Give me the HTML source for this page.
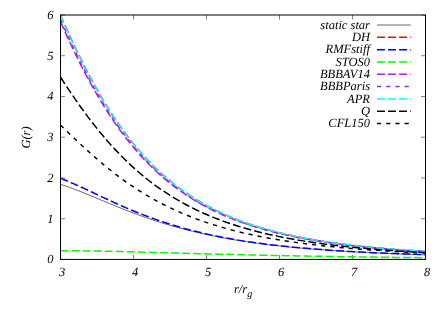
<!DOCTYPE html>
<html><head><meta charset="utf-8"><title>G(r)</title>
<style>html,body{margin:0;padding:0;background:#fff;overflow:hidden}body{width:444px;height:311px;position:relative;font-family:"Liberation Serif",serif}</style></head>
<body>
<svg width="444" height="311" viewBox="0 0 444 311" style="position:absolute;left:0;top:0;will-change:transform">
<rect width="444" height="311" fill="#fff"/>
<path d="M60.5,259.40h4.5 M425.5,259.40h-4.5 M60.5,218.67h4.5 M425.5,218.67h-4.5 M60.5,177.93h4.5 M425.5,177.93h-4.5 M60.5,137.20h4.5 M425.5,137.20h-4.5 M60.5,96.47h4.5 M425.5,96.47h-4.5 M60.5,55.73h4.5 M425.5,55.73h-4.5 M60.5,15.00h4.5 M425.5,15.00h-4.5 M60.50,259.4v-4.5 M60.50,15.0v4.5 M133.50,259.4v-4.5 M133.50,15.0v4.5 M206.50,259.4v-4.5 M206.50,15.0v4.5 M279.50,259.4v-4.5 M279.50,15.0v4.5 M352.50,259.4v-4.5 M352.50,15.0v4.5 M425.50,259.4v-4.5 M425.50,15.0v4.5" stroke="#000" stroke-width="0.5" fill="none"/>
<clipPath id="c"><rect x="60.5" y="15.0" width="365.0" height="244.39999999999998"/></clipPath>
<g fill="none" stroke-linecap="butt" stroke-linejoin="round">
<path d="M60.50,184.38 L63.57,185.35 L66.63,186.38 L69.70,187.45 L72.77,188.57 L75.84,189.73 L78.90,190.92 L81.97,192.14 L85.04,193.38 L88.11,194.63 L91.17,195.90 L94.24,197.17 L97.31,198.45 L100.37,199.73 L103.44,201.02 L106.51,202.29 L109.58,203.56 L112.64,204.83 L115.71,206.08 L118.78,207.32 L121.84,208.55 L124.91,209.76 L127.98,210.95 L131.05,212.13 L134.11,213.28 L137.18,214.42 L140.25,215.54 L143.32,216.64 L146.38,217.72 L149.45,218.77 L152.52,219.81 L155.58,220.82 L158.65,221.81 L161.72,222.78 L164.79,223.73 L167.85,224.65 L170.92,225.55 L173.99,226.44 L177.05,227.30 L180.12,228.13 L183.19,228.95 L186.26,229.75 L189.32,230.53 L192.39,231.28 L195.46,232.02 L198.53,232.74 L201.59,233.43 L204.66,234.11 L207.73,234.78 L210.79,235.42 L213.86,236.05 L216.93,236.66 L220.00,237.25 L223.06,237.82 L226.13,238.38 L229.20,238.93 L232.26,239.46 L235.33,239.97 L238.40,240.47 L241.47,240.96 L244.53,241.43 L247.60,241.89 L250.67,242.34 L253.74,242.77 L256.80,243.19 L259.87,243.60 L262.94,244.00 L266.00,244.38 L269.07,244.76 L272.14,245.12 L275.21,245.48 L278.27,245.82 L281.34,246.16 L284.41,246.48 L287.47,246.80 L290.54,247.11 L293.61,247.41 L296.68,247.70 L299.74,247.98 L302.81,248.25 L305.88,248.52 L308.95,248.78 L312.01,249.03 L315.08,249.28 L318.15,249.51 L321.21,249.75 L324.28,249.97 L327.35,250.19 L330.42,250.40 L333.48,250.61 L336.55,250.81 L339.62,251.01 L342.68,251.20 L345.75,251.38 L348.82,251.56 L351.89,251.74 L354.95,251.91 L358.02,252.08 L361.09,252.24 L364.16,252.39 L367.22,252.55 L370.29,252.70 L373.36,252.84 L376.42,252.98 L379.49,253.12 L382.56,253.25 L385.63,253.38 L388.69,253.51 L391.76,253.63 L394.83,253.75 L397.89,253.87 L400.96,253.99 L404.03,254.10 L407.10,254.21 L410.16,254.31 L413.23,254.41 L416.30,254.52 L419.37,254.61 L422.43,254.71 L425.50,254.80" stroke="#000" stroke-width="0.6"/>
<path d="M377,25.00H410.8" stroke="#000" stroke-width="0.6"/>
<path d="M60.50,15.26 L63.57,22.21 L66.63,29.05 L69.70,35.78 L72.77,42.38 L75.84,48.86 L78.90,55.19 L81.97,61.39 L85.04,67.45 L88.11,73.36 L91.17,79.12 L94.24,84.73 L97.31,90.20 L100.37,95.52 L103.44,100.68 L106.51,105.71 L109.58,110.58 L112.64,115.32 L115.71,119.91 L118.78,124.37 L121.84,128.68 L124.91,132.87 L127.98,136.92 L131.05,140.84 L134.11,144.64 L137.18,148.32 L140.25,151.88 L143.32,155.32 L146.38,158.65 L149.45,161.87 L152.52,164.98 L155.58,167.99 L158.65,170.90 L161.72,173.71 L164.79,176.43 L167.85,179.06 L170.92,181.60 L173.99,184.05 L177.05,186.42 L180.12,188.71 L183.19,190.92 L186.26,193.05 L189.32,195.12 L192.39,197.11 L195.46,199.04 L198.53,200.90 L201.59,202.70 L204.66,204.44 L207.73,206.11 L210.79,207.74 L213.86,209.30 L216.93,210.82 L220.00,212.28 L223.06,213.69 L226.13,215.06 L229.20,216.38 L232.26,217.66 L235.33,218.89 L238.40,220.08 L241.47,221.24 L244.53,222.35 L247.60,223.43 L250.67,224.47 L253.74,225.48 L256.80,226.45 L259.87,227.40 L262.94,228.31 L266.00,229.19 L269.07,230.04 L272.14,230.87 L275.21,231.67 L278.27,232.44 L281.34,233.19 L284.41,233.91 L287.47,234.61 L290.54,235.29 L293.61,235.95 L296.68,236.59 L299.74,237.20 L302.81,237.80 L305.88,238.38 L308.95,238.94 L312.01,239.48 L315.08,240.01 L318.15,240.52 L321.21,241.01 L324.28,241.49 L327.35,241.96 L330.42,242.41 L333.48,242.84 L336.55,243.27 L339.62,243.68 L342.68,244.08 L345.75,244.46 L348.82,244.84 L351.89,245.20 L354.95,245.55 L358.02,245.90 L361.09,246.23 L364.16,246.55 L367.22,246.86 L370.29,247.17 L373.36,247.46 L376.42,247.75 L379.49,248.03 L382.56,248.30 L385.63,248.56 L388.69,248.82 L391.76,249.07 L394.83,249.31 L397.89,249.54 L400.96,249.77 L404.03,249.99 L407.10,250.21 L410.16,250.42 L413.23,250.62 L416.30,250.82 L419.37,251.01 L422.43,251.20 L425.50,251.38" stroke="#ff0000" stroke-width="1.5" stroke-dasharray="7.9 3.15"/>
<path d="M377,37.32H410.8" stroke="#ff0000" stroke-width="1.5" stroke-dasharray="7.9 3.15"/>
<path d="M60.50,178.38 L63.57,179.54 L66.63,180.76 L69.70,182.03 L72.77,183.34 L75.84,184.69 L78.90,186.07 L81.97,187.48 L85.04,188.90 L88.11,190.34 L91.17,191.79 L94.24,193.24 L97.31,194.69 L100.37,196.14 L103.44,197.59 L106.51,199.02 L109.58,200.45 L112.64,201.86 L115.71,203.26 L118.78,204.63 L121.84,205.99 L124.91,207.33 L127.98,208.65 L131.05,209.94 L134.11,211.21 L137.18,212.46 L140.25,213.68 L143.32,214.88 L146.38,216.05 L149.45,217.19 L152.52,218.31 L155.58,219.40 L158.65,220.47 L161.72,221.51 L164.79,222.53 L167.85,223.52 L170.92,224.48 L173.99,225.42 L177.05,226.34 L180.12,227.23 L183.19,228.09 L186.26,228.94 L189.32,229.76 L192.39,230.56 L195.46,231.33 L198.53,232.09 L201.59,232.82 L204.66,233.53 L207.73,234.22 L210.79,234.89 L213.86,235.55 L216.93,236.18 L220.00,236.80 L223.06,237.39 L226.13,237.97 L229.20,238.54 L232.26,239.08 L235.33,239.62 L238.40,240.13 L241.47,240.63 L244.53,241.12 L247.60,241.59 L250.67,242.05 L253.74,242.49 L256.80,242.92 L259.87,243.34 L262.94,243.75 L266.00,244.14 L269.07,244.52 L272.14,244.89 L275.21,245.25 L278.27,245.60 L281.34,245.94 L284.41,246.27 L287.47,246.59 L290.54,246.91 L293.61,247.21 L296.68,247.50 L299.74,247.79 L302.81,248.06 L305.88,248.33 L308.95,248.59 L312.01,248.85 L315.08,249.09 L318.15,249.33 L321.21,249.56 L324.28,249.79 L327.35,250.01 L330.42,250.22 L333.48,250.43 L336.55,250.63 L339.62,250.83 L342.68,251.02 L345.75,251.20 L348.82,251.38 L351.89,251.56 L354.95,251.73 L358.02,251.89 L361.09,252.05 L364.16,252.21 L367.22,252.36 L370.29,252.51 L373.36,252.65 L376.42,252.80 L379.49,252.93 L382.56,253.06 L385.63,253.19 L388.69,253.32 L391.76,253.44 L394.83,253.56 L397.89,253.68 L400.96,253.79 L404.03,253.90 L407.10,254.01 L410.16,254.12 L413.23,254.22 L416.30,254.32 L419.37,254.41 L422.43,254.51 L425.50,254.60" stroke="#0000ff" stroke-width="1.5" stroke-dasharray="7.9 3.15"/>
<path d="M377,49.64H410.8" stroke="#0000ff" stroke-width="1.5" stroke-dasharray="7.9 3.15"/>
<path d="M60.50,250.71 L63.57,250.71 L66.63,250.73 L69.70,250.74 L72.77,250.77 L75.84,250.79 L78.90,250.82 L81.97,250.86 L85.04,250.90 L88.11,250.94 L91.17,250.99 L94.24,251.04 L97.31,251.09 L100.37,251.15 L103.44,251.21 L106.51,251.27 L109.58,251.33 L112.64,251.40 L115.71,251.47 L118.78,251.54 L121.84,251.61 L124.91,251.68 L127.98,251.76 L131.05,251.83 L134.11,251.91 L137.18,251.99 L140.25,252.07 L143.32,252.15 L146.38,252.23 L149.45,252.31 L152.52,252.39 L155.58,252.48 L158.65,252.56 L161.72,252.64 L164.79,252.73 L167.85,252.81 L170.92,252.90 L173.99,252.98 L177.05,253.06 L180.12,253.15 L183.19,253.23 L186.26,253.32 L189.32,253.40 L192.39,253.48 L195.46,253.56 L198.53,253.65 L201.59,253.73 L204.66,253.81 L207.73,253.89 L210.79,253.97 L213.86,254.05 L216.93,254.13 L220.00,254.21 L223.06,254.28 L226.13,254.36 L229.20,254.44 L232.26,254.51 L235.33,254.59 L238.40,254.66 L241.47,254.73 L244.53,254.81 L247.60,254.88 L250.67,254.95 L253.74,255.02 L256.80,255.09 L259.87,255.16 L262.94,255.22 L266.00,255.29 L269.07,255.36 L272.14,255.42 L275.21,255.49 L278.27,255.55 L281.34,255.61 L284.41,255.67 L287.47,255.73 L290.54,255.79 L293.61,255.85 L296.68,255.91 L299.74,255.97 L302.81,256.03 L305.88,256.08 L308.95,256.14 L312.01,256.19 L315.08,256.24 L318.15,256.30 L321.21,256.35 L324.28,256.40 L327.35,256.45 L330.42,256.50 L333.48,256.55 L336.55,256.60 L339.62,256.64 L342.68,256.69 L345.75,256.74 L348.82,256.78 L351.89,256.83 L354.95,256.87 L358.02,256.91 L361.09,256.95 L364.16,257.00 L367.22,257.04 L370.29,257.08 L373.36,257.12 L376.42,257.16 L379.49,257.19 L382.56,257.23 L385.63,257.27 L388.69,257.30 L391.76,257.34 L394.83,257.38 L397.89,257.41 L400.96,257.44 L404.03,257.48 L407.10,257.51 L410.16,257.54 L413.23,257.57 L416.30,257.61 L419.37,257.64 L422.43,257.67 L425.50,257.70" stroke="#00ff00" stroke-width="1.5" stroke-dasharray="7.9 3.15"/>
<path d="M377,61.96H410.8" stroke="#00ff00" stroke-width="1.5" stroke-dasharray="7.9 3.15"/>
<path d="M60.50,21.83 L63.57,28.68 L66.63,35.42 L69.70,42.03 L72.77,48.51 L75.84,54.85 L78.90,61.06 L81.97,67.12 L85.04,73.04 L88.11,78.81 L91.17,84.43 L94.24,89.90 L97.31,95.23 L100.37,100.41 L103.44,105.44 L106.51,110.32 L109.58,115.06 L112.64,119.66 L115.71,124.13 L118.78,128.45 L121.84,132.64 L124.91,136.70 L127.98,140.63 L131.05,144.44 L134.11,148.12 L137.18,151.69 L140.25,155.13 L143.32,158.47 L146.38,161.70 L149.45,164.82 L152.52,167.83 L155.58,170.75 L158.65,173.56 L161.72,176.29 L164.79,178.92 L167.85,181.46 L170.92,183.92 L173.99,186.29 L177.05,188.58 L180.12,190.80 L183.19,192.94 L186.26,195.01 L189.32,197.01 L192.39,198.94 L195.46,200.80 L198.53,202.60 L201.59,204.34 L204.66,206.02 L207.73,207.65 L210.79,209.22 L213.86,210.74 L216.93,212.20 L220.00,213.62 L223.06,214.99 L226.13,216.31 L229.20,217.59 L232.26,218.82 L235.33,220.02 L238.40,221.17 L241.47,222.29 L244.53,223.37 L247.60,224.41 L250.67,225.42 L253.74,226.40 L256.80,227.34 L259.87,228.26 L262.94,229.14 L266.00,230.00 L269.07,230.82 L272.14,231.62 L275.21,232.40 L278.27,233.15 L281.34,233.87 L284.41,234.58 L287.47,235.26 L290.54,235.92 L293.61,236.55 L296.68,237.17 L299.74,237.77 L302.81,238.35 L305.88,238.91 L308.95,239.45 L312.01,239.98 L315.08,240.49 L318.15,240.99 L321.21,241.47 L324.28,241.93 L327.35,242.38 L330.42,242.82 L333.48,243.24 L336.55,243.66 L339.62,244.05 L342.68,244.44 L345.75,244.82 L348.82,245.18 L351.89,245.53 L354.95,245.88 L358.02,246.21 L361.09,246.53 L364.16,246.85 L367.22,247.15 L370.29,247.45 L373.36,247.74 L376.42,248.02 L379.49,248.29 L382.56,248.55 L385.63,248.81 L388.69,249.05 L391.76,249.30 L394.83,249.53 L397.89,249.76 L400.96,249.98 L404.03,250.20 L407.10,250.41 L410.16,250.61 L413.23,250.81 L416.30,251.00 L419.37,251.19 L422.43,251.37 L425.50,251.55" stroke="#a020f0" stroke-width="1.5" stroke-dasharray="7.9 3.15"/>
<path d="M377,74.28H410.8" stroke="#a020f0" stroke-width="1.5" stroke-dasharray="7.9 3.15"/>
<path d="M60.50,19.58 L63.57,26.46 L66.63,33.23 L69.70,39.88 L72.77,46.41 L75.84,52.80 L78.90,59.05 L81.97,65.16 L85.04,71.13 L88.11,76.94 L91.17,82.61 L94.24,88.14 L97.31,93.51 L100.37,98.73 L103.44,103.81 L106.51,108.75 L109.58,113.53 L112.64,118.18 L115.71,122.69 L118.78,127.06 L121.84,131.29 L124.91,135.39 L127.98,139.36 L131.05,143.21 L134.11,146.93 L137.18,150.54 L140.25,154.02 L143.32,157.40 L146.38,160.66 L149.45,163.81 L152.52,166.86 L155.58,169.81 L158.65,172.65 L161.72,175.41 L164.79,178.07 L167.85,180.64 L170.92,183.12 L173.99,185.53 L177.05,187.84 L180.12,190.09 L183.19,192.25 L186.26,194.34 L189.32,196.36 L192.39,198.31 L195.46,200.20 L198.53,202.02 L201.59,203.78 L204.66,205.48 L207.73,207.13 L210.79,208.71 L213.86,210.25 L216.93,211.73 L220.00,213.16 L223.06,214.55 L226.13,215.88 L229.20,217.18 L232.26,218.43 L235.33,219.63 L238.40,220.80 L241.47,221.93 L244.53,223.02 L247.60,224.08 L250.67,225.10 L253.74,226.09 L256.80,227.04 L259.87,227.96 L262.94,228.86 L266.00,229.72 L269.07,230.56 L272.14,231.37 L275.21,232.15 L278.27,232.91 L281.34,233.64 L284.41,234.35 L287.47,235.04 L290.54,235.70 L293.61,236.35 L296.68,236.97 L299.74,237.58 L302.81,238.16 L305.88,238.73 L308.95,239.28 L312.01,239.81 L315.08,240.33 L318.15,240.83 L321.21,241.31 L324.28,241.78 L327.35,242.24 L330.42,242.68 L333.48,243.11 L336.55,243.52 L339.62,243.93 L342.68,244.32 L345.75,244.70 L348.82,245.06 L351.89,245.42 L354.95,245.77 L358.02,246.10 L361.09,246.43 L364.16,246.75 L367.22,247.05 L370.29,247.35 L373.36,247.64 L376.42,247.92 L379.49,248.20 L382.56,248.46 L385.63,248.72 L388.69,248.97 L391.76,249.22 L394.83,249.46 L397.89,249.69 L400.96,249.91 L404.03,250.13 L407.10,250.34 L410.16,250.55 L413.23,250.75 L416.30,250.94 L419.37,251.13 L422.43,251.31 L425.50,251.49" stroke="#a020f0" stroke-width="1.5" stroke-dasharray="4.2 5"/>
<path d="M377,86.60H410.8" stroke="#a020f0" stroke-width="1.5" stroke-dasharray="4.2 5"/>
<path d="M60.50,15.71 L63.57,22.66 L66.63,29.49 L69.70,36.21 L72.77,42.81 L75.84,49.27 L78.90,55.60 L81.97,61.79 L85.04,67.84 L88.11,73.74 L91.17,79.49 L94.24,85.09 L97.31,90.55 L100.37,95.86 L103.44,101.02 L106.51,106.03 L109.58,110.90 L112.64,115.62 L115.71,120.21 L118.78,124.65 L121.84,128.96 L124.91,133.13 L127.98,137.18 L131.05,141.09 L134.11,144.89 L137.18,148.56 L140.25,152.11 L143.32,155.54 L146.38,158.86 L149.45,162.08 L152.52,165.18 L155.58,168.18 L158.65,171.09 L161.72,173.89 L164.79,176.61 L167.85,179.23 L170.92,181.76 L173.99,184.20 L177.05,186.57 L180.12,188.85 L183.19,191.06 L186.26,193.19 L189.32,195.25 L192.39,197.24 L195.46,199.16 L198.53,201.02 L201.59,202.81 L204.66,204.55 L207.73,206.22 L210.79,207.84 L213.86,209.40 L216.93,210.91 L220.00,212.37 L223.06,213.78 L226.13,215.15 L229.20,216.47 L232.26,217.74 L235.33,218.97 L238.40,220.16 L241.47,221.31 L244.53,222.42 L247.60,223.50 L250.67,224.54 L253.74,225.54 L256.80,226.52 L259.87,227.46 L262.94,228.37 L266.00,229.25 L269.07,230.10 L272.14,230.92 L275.21,231.72 L278.27,232.49 L281.34,233.24 L284.41,233.96 L287.47,234.66 L290.54,235.34 L293.61,235.99 L296.68,236.63 L299.74,237.24 L302.81,237.84 L305.88,238.42 L308.95,238.98 L312.01,239.52 L315.08,240.04 L318.15,240.55 L321.21,241.05 L324.28,241.52 L327.35,241.99 L330.42,242.44 L333.48,242.87 L336.55,243.29 L339.62,243.70 L342.68,244.10 L345.75,244.49 L348.82,244.86 L351.89,245.22 L354.95,245.58 L358.02,245.92 L361.09,246.25 L364.16,246.57 L367.22,246.88 L370.29,247.19 L373.36,247.48 L376.42,247.77 L379.49,248.05 L382.56,248.32 L385.63,248.58 L388.69,248.84 L391.76,249.08 L394.83,249.32 L397.89,249.56 L400.96,249.79 L404.03,250.01 L407.10,250.22 L410.16,250.43 L413.23,250.64 L416.30,250.83 L419.37,251.03 L422.43,251.21 L425.50,251.40" stroke="#00ffff" stroke-width="1.5" stroke-dasharray="7.9 3.15"/>
<path d="M377,98.92H410.8" stroke="#00ffff" stroke-width="1.5" stroke-dasharray="7.9 3.15"/>
<path d="M60.50,77.23 L63.57,81.93 L66.63,86.57 L69.70,91.15 L72.77,95.67 L75.84,100.11 L78.90,104.48 L81.97,108.77 L85.04,112.97 L88.11,117.09 L91.17,121.12 L94.24,125.06 L97.31,128.92 L100.37,132.68 L103.44,136.35 L106.51,139.93 L109.58,143.42 L112.64,146.82 L115.71,150.13 L118.78,153.35 L121.84,156.48 L124.91,159.53 L127.98,162.50 L131.05,165.37 L134.11,168.17 L137.18,170.89 L140.25,173.53 L143.32,176.09 L146.38,178.57 L149.45,180.98 L152.52,183.32 L155.58,185.59 L158.65,187.79 L161.72,189.92 L164.79,191.99 L167.85,193.99 L170.92,195.93 L173.99,197.82 L177.05,199.64 L180.12,201.41 L183.19,203.12 L186.26,204.78 L189.32,206.39 L192.39,207.95 L195.46,209.46 L198.53,210.92 L201.59,212.33 L204.66,213.70 L207.73,215.03 L210.79,216.32 L213.86,217.57 L216.93,218.77 L220.00,219.94 L223.06,221.08 L226.13,222.17 L229.20,223.24 L232.26,224.27 L235.33,225.27 L238.40,226.23 L241.47,227.17 L244.53,228.08 L247.60,228.96 L250.67,229.81 L253.74,230.63 L256.80,231.43 L259.87,232.21 L262.94,232.96 L266.00,233.69 L269.07,234.40 L272.14,235.08 L275.21,235.74 L278.27,236.39 L281.34,237.01 L284.41,237.62 L287.47,238.20 L290.54,238.77 L293.61,239.32 L296.68,239.86 L299.74,240.38 L302.81,240.88 L305.88,241.37 L308.95,241.84 L312.01,242.30 L315.08,242.75 L318.15,243.18 L321.21,243.60 L324.28,244.01 L327.35,244.40 L330.42,244.79 L333.48,245.16 L336.55,245.52 L339.62,245.87 L342.68,246.22 L345.75,246.55 L348.82,246.87 L351.89,247.18 L354.95,247.49 L358.02,247.78 L361.09,248.07 L364.16,248.35 L367.22,248.62 L370.29,248.88 L373.36,249.14 L376.42,249.39 L379.49,249.63 L382.56,249.86 L385.63,250.09 L388.69,250.31 L391.76,250.53 L394.83,250.74 L397.89,250.95 L400.96,251.14 L404.03,251.34 L407.10,251.53 L410.16,251.71 L413.23,251.89 L416.30,252.06 L419.37,252.23 L422.43,252.39 L425.50,252.55" stroke="#000" stroke-width="1.5" stroke-dasharray="7.9 3.15"/>
<path d="M377,111.24H410.8" stroke="#000" stroke-width="1.5" stroke-dasharray="7.9 3.15"/>
<path d="M60.50,125.17 L63.57,128.10 L66.63,131.03 L69.70,133.96 L72.77,136.89 L75.84,139.79 L78.90,142.68 L81.97,145.54 L85.04,148.36 L88.11,151.16 L91.17,153.91 L94.24,156.63 L97.31,159.29 L100.37,161.92 L103.44,164.49 L106.51,167.02 L109.58,169.50 L112.64,171.92 L115.71,174.29 L118.78,176.61 L121.84,178.88 L124.91,181.09 L127.98,183.25 L131.05,185.36 L134.11,187.41 L137.18,189.41 L140.25,191.36 L143.32,193.26 L146.38,195.11 L149.45,196.91 L152.52,198.66 L155.58,200.36 L158.65,202.02 L161.72,203.63 L164.79,205.19 L167.85,206.71 L170.92,208.19 L173.99,209.62 L177.05,211.01 L180.12,212.37 L183.19,213.68 L186.26,214.95 L189.32,216.19 L192.39,217.39 L195.46,218.56 L198.53,219.69 L201.59,220.78 L204.66,221.85 L207.73,222.88 L210.79,223.88 L213.86,224.86 L216.93,225.80 L220.00,226.71 L223.06,227.60 L226.13,228.46 L229.20,229.30 L232.26,230.11 L235.33,230.90 L238.40,231.66 L241.47,232.40 L244.53,233.12 L247.60,233.81 L250.67,234.49 L253.74,235.15 L256.80,235.78 L259.87,236.40 L262.94,237.00 L266.00,237.58 L269.07,238.14 L272.14,238.69 L275.21,239.22 L278.27,239.74 L281.34,240.24 L284.41,240.73 L287.47,241.20 L290.54,241.66 L293.61,242.10 L296.68,242.53 L299.74,242.95 L302.81,243.36 L305.88,243.76 L308.95,244.14 L312.01,244.51 L315.08,244.88 L318.15,245.23 L321.21,245.57 L324.28,245.91 L327.35,246.23 L330.42,246.54 L333.48,246.85 L336.55,247.15 L339.62,247.43 L342.68,247.72 L345.75,247.99 L348.82,248.25 L351.89,248.51 L354.95,248.76 L358.02,249.01 L361.09,249.24 L364.16,249.48 L367.22,249.70 L370.29,249.92 L373.36,250.13 L376.42,250.34 L379.49,250.54 L382.56,250.74 L385.63,250.93 L388.69,251.11 L391.76,251.29 L394.83,251.47 L397.89,251.64 L400.96,251.81 L404.03,251.97 L407.10,252.13 L410.16,252.29 L413.23,252.44 L416.30,252.58 L419.37,252.73 L422.43,252.86 L425.50,253.00" stroke="#000" stroke-width="1.5" stroke-dasharray="4.2 5"/>
<path d="M377,123.56H410.8" stroke="#000" stroke-width="1.5" stroke-dasharray="4.2 5"/>
</g>
<rect x="60.5" y="15.0" width="365.0" height="244.39999999999998" fill="none" stroke="#000" stroke-width="1"/>
<g font-family="'Liberation Serif', serif" font-style="italic" font-size="12.5px" fill="#000" text-rendering="geometricPrecision">
<text x="370" y="28.60" text-anchor="end">static star</text>
<text x="370" y="40.96" text-anchor="end">DH</text>
<text x="370" y="53.32" text-anchor="end">RMFstiff</text>
<text x="370" y="65.68" text-anchor="end">STOS0</text>
<text x="370" y="78.04" text-anchor="end">BBBAV14</text>
<text x="370" y="90.40" text-anchor="end">BBBParis</text>
<text x="370" y="102.76" text-anchor="end">APR</text>
<text x="370" y="115.12" text-anchor="end">Q</text>
<text x="370" y="127.48" text-anchor="end">CFL150</text>
<text x="53.5" y="263.40" text-anchor="end">0</text>
<text x="53.5" y="222.67" text-anchor="end">1</text>
<text x="53.5" y="181.93" text-anchor="end">2</text>
<text x="53.5" y="141.20" text-anchor="end">3</text>
<text x="53.5" y="100.47" text-anchor="end">4</text>
<text x="53.5" y="59.73" text-anchor="end">5</text>
<text x="53.5" y="19.00" text-anchor="end">6</text>
<text x="62.00" y="276" text-anchor="middle">3</text>
<text x="135.00" y="276" text-anchor="middle">4</text>
<text x="208.00" y="276" text-anchor="middle">5</text>
<text x="281.00" y="276" text-anchor="middle">6</text>
<text x="354.00" y="276" text-anchor="middle">7</text>
<text x="427.00" y="276" text-anchor="middle">8</text>
<text x="234" y="293">r/r<tspan font-size="10px" dy="3.8">g</tspan></text>
<text transform="translate(30,137.5) rotate(-90)" text-anchor="middle">G(r)</text>
</g>
</svg>
</body></html>
